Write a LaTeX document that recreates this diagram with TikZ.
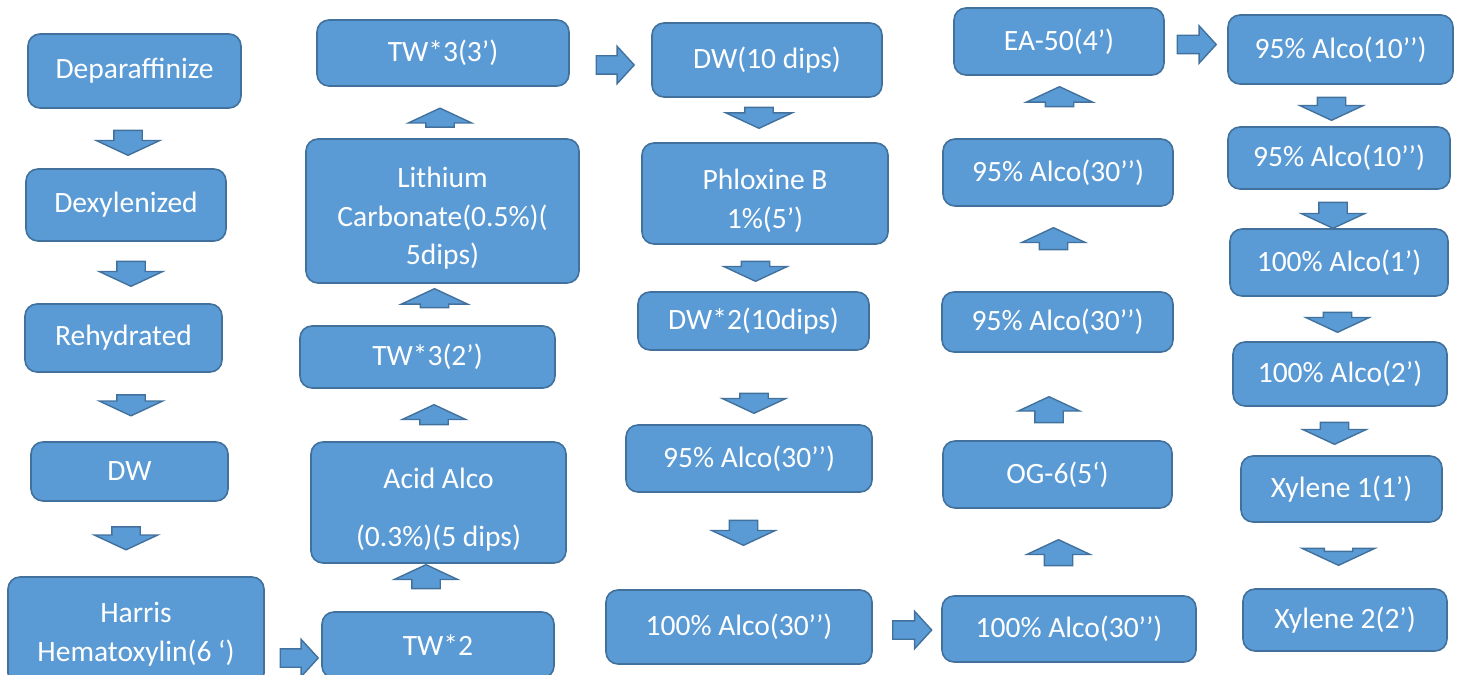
\documentclass[tikz,border=0pt]{standalone}
\usepackage{fontspec}
\setmainfont{Carlito}
\usepackage{xcolor}
\usepackage{tikz}
\usetikzlibrary{shapes.arrows}
\definecolor{boxfill}{HTML}{5B9BD5}
\definecolor{boxline}{HTML}{41719C}
\tikzstyle{node:box}=[rectangle,rounded corners=12pt,draw=boxline,fill=boxfill,line width=1.6pt,text=white,align=center,font=\fontsize{29.5}{38.5}\selectfont]
\tikzstyle{node:arrow}=[single arrow,draw=boxline,fill=boxfill,line width=1.4pt,inner xsep=0pt]
\tikzstyle{node:down}=[node:arrow,rotate=-90,inner ysep=13.5pt,minimum height=23pt,single arrow head extend=17.5pt,single arrow tip angle=130]
\tikzstyle{node:up}=[node:arrow,rotate=90,inner ysep=13.5pt,minimum height=23pt,single arrow head extend=17.5pt,single arrow tip angle=130]
\tikzstyle{node:right}=[node:arrow,inner ysep=8.5pt,minimum height=38pt,single arrow head extend=9.5pt,single arrow tip angle=95]
\newcommand{\lowstrut}{\rule{0pt}{35pt}}

\begin{document}
\begin{tikzpicture}[x=1pt,y=-1pt]
        \useasboundingbox (0,0) rectangle (1463,674);
        \clip (0,0) rectangle (1463,674);

        % First column (going down)
        \node[node:box,minimum width=213,minimum height=74] (P1) at (134.5,71) {Deparaffinize};
        \node[node:box,minimum width=200,minimum height=72] (P2) at (126,205) {Dexylenized};
        \node[node:box,minimum width=197,minimum height=68] (P3) at (123.5,338) {Rehydrated};
        \node[node:box,minimum width=197,minimum height=59] (P4) at (129.5,471.5) {DW};
        \node[node:box,minimum width=256,minimum height=108] (P5) at (136,631) {\rule{0pt}{27pt}Harris\\Hematoxylin(6 ‘)};

        \node[node:down,minimum height=25] (A1) at (128,139.5) {};
        \node[node:down,minimum height=25] (A2) at (131,270.5) {};
        \node[node:down,minimum height=21] (A3) at (131,402) {};
        \node[node:down] (A4) at (126,535) {};
        \node[node:right] (A5) at (295,658) {};

        % Second column (going up)
        \node[node:box,minimum width=232,minimum height=66] (Q1) at (438,645) {TW*2};
        \node[node:box,minimum width=255,minimum height=121] (Q2) at (438.5,502.5) {\lowstrut Acid Alco\\[19pt](0.3\%)(5 dips)};
        \node[node:box,minimum width=255,minimum height=62] (Q3) at (427.5,357) {TW*3(2’)};
        \node[node:box,minimum width=273,minimum height=144] (Q4) at (442.5,211) {\lowstrut Lithium\\Carbonate(0.5\%)(\\5dips)};
        \node[node:box,minimum width=252,minimum height=66] (Q5) at (443,53) {TW*3(3’)};

        \node[node:up,minimum height=24] (B1) at (426,580) {};
        \node[node:up,minimum height=20] (B2) at (434,418) {};
        \node[node:up,minimum height=19,single arrow head extend=19pt] (B3) at (434.5,301.5) {};
        \node[node:up,minimum height=19] (B4) at (440,121) {};
        \node[node:right] (B5) at (611,65) {};

        % Third column (going down)
        \node[node:box,minimum width=230,minimum height=74] (R1) at (767,60) {DW(10 dips)};
        \node[node:box,minimum width=246,minimum height=101] (R2) at (765,193.5) {\lowstrut Phloxine B\\1\%(5’)};
        \node[node:box,minimum width=231,minimum height=58] (R3) at (753.5,321) {DW*2(10dips)};
        \node[node:box,minimum width=246,minimum height=67] (R4) at (749,458.5) {95\% Alco(30’’)};
        \node[node:box,minimum width=266,minimum height=74] (R5) at (739,627) {100\% Alco(30’’)};

        \node[node:down,minimum height=21,single arrow head extend=19pt] (C1) at (759,114.5) {};
        \node[node:down,minimum height=20] (C2) at (755.5,268) {};
        \node[node:down,minimum height=20] (C3) at (754,400) {};
        \node[node:down,minimum height=25] (C4) at (743.5,529.5) {};
        \node[node:right,minimum height=39] (C5) at (908,630) {};

        % Fourth column (going up)
        \node[node:box,minimum width=254,minimum height=66] (S1) at (1069,629) {100\% Alco(30’’)};
        \node[node:box,minimum width=229,minimum height=67] (S2) at (1057.5,474.5) {OG-6(5‘)};
        \node[node:box,minimum width=231,minimum height=60] (S3) at (1057.5,322) {95\% Alco(30’’)};
        \node[node:box,minimum width=230,minimum height=67] (S4) at (1058,172.5) {95\% Alco(30’’)};
        \node[node:box,minimum width=210,minimum height=67] (S5) at (1059,41.5) {EA-50(4’)};

        \node[node:up,minimum height=26] (D1) at (1058.5,556) {};
        \node[node:up,minimum height=26,single arrow head extend=16.5pt] (D2) at (1049,413) {};
        \node[node:up,minimum height=22] (D3) at (1053.5,242) {};
        \node[node:up,minimum height=20,single arrow head extend=19pt] (D4) at (1059.5,100) {};
        \node[node:right,minimum height=39] (D5) at (1192.5,44.5) {};

        % Fifth column (going down)
        \node[node:box,minimum width=225,minimum height=69] (T1) at (1340.5,49.5) {95\% Alco(10’’)};
        \node[node:box,minimum width=222,minimum height=62] (T2) at (1339,158) {95\% Alco(10’’)};
        \node[node:box,minimum width=218,minimum height=67] (T3) at (1339,262.5) {100\% Alco(1’)};
        \node[node:box,minimum width=214,minimum height=64] (T4) at (1340,374) {100\% Alco(2’)};
        \node[node:box,minimum width=201,minimum height=66] (T5) at (1341.5,489) {Xylene 1(1’)};
        \node[node:box,minimum width=204,minimum height=62] (T6) at (1345,620) {Xylene 2(2’)};

        \node[node:down] (E1) at (1331.5,105.5) {};
        \node[node:down,minimum height=26] (E2) at (1333,212) {};
        \node[node:down,minimum height=20] (E3) at (1337.5,319) {};
        \node[node:down,minimum height=22] (E4) at (1334.5,430) {};
        \node[node:down,minimum height=14,single arrow head extend=22pt] (E5) at (1338.5,555) {};
\end{tikzpicture}
\end{document}
